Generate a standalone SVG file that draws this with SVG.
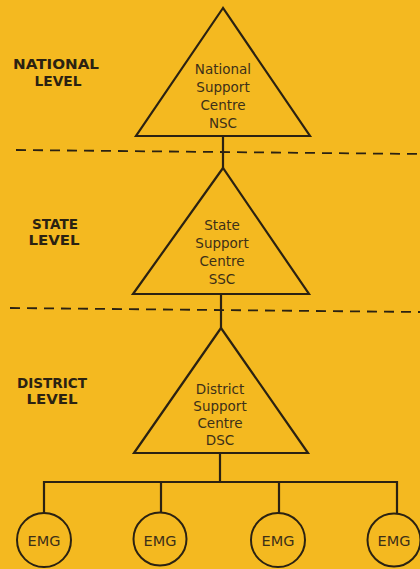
<svg xmlns="http://www.w3.org/2000/svg" width="420" height="569" viewBox="0 0 420 569">
  <style>
    .bg { fill: #F4B920; }
    .tri { fill: none; stroke: #2b2212; stroke-width: 2.2; stroke-linejoin: miter; }
    .emg { fill: none; stroke: #2b2212; stroke-width: 2; }
    .wire { fill: none; stroke: #2b2212; stroke-width: 2.2; }
    .divider { fill: none; stroke: #2b2212; stroke-width: 1.8; stroke-dasharray: 10 7; }
    .level { font-family: "DejaVu Sans", "Liberation Sans", sans-serif; font-weight: bold; font-size: 13.5px; fill: #2b2212; text-anchor: middle; }
    .name { font-family: "DejaVu Sans", "Liberation Sans", sans-serif; font-size: 13.5px; fill: #3d3018; text-anchor: middle; }
    .tag { font-family: "DejaVu Sans", "Liberation Sans", sans-serif; font-size: 14.5px; fill: #3d3018; text-anchor: middle; }
  </style>

  <rect class="bg" x="0" y="0" width="420" height="569"/>

  <!-- level dividers -->
  <g id="dividers">
    <line class="divider" x1="16" y1="150" x2="420" y2="154"/>
    <line class="divider" x1="10" y1="308" x2="420" y2="312"/>
  </g>

  <!-- level titles -->
  <g id="level-labels">
    <text class="level" x="56" y="69" textLength="86" lengthAdjust="spacingAndGlyphs">NATIONAL</text>
    <text class="level" x="58" y="86" textLength="47" lengthAdjust="spacingAndGlyphs">LEVEL</text>
    <text class="level" x="55" y="229" textLength="46" lengthAdjust="spacingAndGlyphs">STATE</text>
    <text class="level" x="54" y="245" textLength="51" lengthAdjust="spacingAndGlyphs">LEVEL</text>
    <text class="level" x="52" y="388" textLength="70" lengthAdjust="spacingAndGlyphs">DISTRICT</text>
    <text class="level" x="52" y="404" textLength="51" lengthAdjust="spacingAndGlyphs">LEVEL</text>
  </g>

  <!-- connectors -->
  <g id="connectors">
    <line class="wire" x1="223" y1="136" x2="223" y2="168"/>
    <line class="wire" x1="221" y1="294" x2="221" y2="328"/>
    <line class="wire" x1="220" y1="453" x2="220" y2="482"/>
    <polyline class="wire" points="44,513 44,482 397,482 397,513"/>
    <line class="wire" x1="161" y1="482" x2="161" y2="513"/>
    <line class="wire" x1="279" y1="482" x2="279" y2="513"/>
  </g>

  <g id="nsc">
    <polygon class="tri" points="223,8 136,136 310,136"/>
    <text class="name" x="223" y="74">National</text>
    <text class="name" x="223" y="92">Support</text>
    <text class="name" x="223" y="110">Centre</text>
    <text class="name" x="223" y="128">NSC</text>
  </g>

  <g id="ssc">
    <polygon class="tri" points="223,168 133,294 309,294"/>
    <text class="name" x="222" y="230">State</text>
    <text class="name" x="222" y="248">Support</text>
    <text class="name" x="222" y="266">Centre</text>
    <text class="name" x="222" y="284">SSC</text>
  </g>

  <g id="dsc">
    <polygon class="tri" points="221,328 134,453 308,453"/>
    <text class="name" x="220" y="394">District</text>
    <text class="name" x="220" y="411">Support</text>
    <text class="name" x="220" y="428">Centre</text>
    <text class="name" x="220" y="445">DSC</text>
  </g>

  <g id="emg-1">
    <circle class="emg" cx="44" cy="540" r="27"/>
    <text class="tag" x="44" y="546">EMG</text>
  </g>
  <g id="emg-2">
    <circle class="emg" cx="160" cy="539" r="26.5"/>
    <text class="tag" x="160" y="546">EMG</text>
  </g>
  <g id="emg-3">
    <circle class="emg" cx="278" cy="540" r="27"/>
    <text class="tag" x="278" y="546">EMG</text>
  </g>
  <g id="emg-4">
    <circle class="emg" cx="394" cy="540" r="26.5"/>
    <text class="tag" x="394" y="546">EMG</text>
  </g>
</svg>
